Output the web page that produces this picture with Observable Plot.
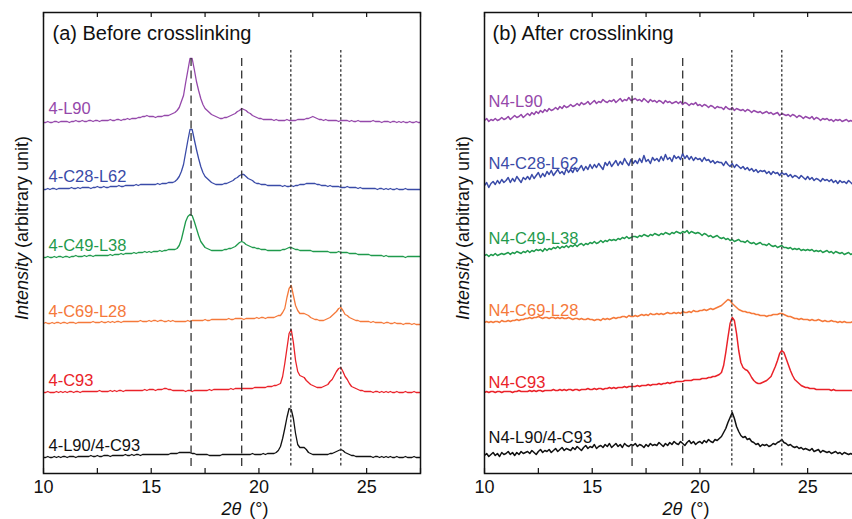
<!DOCTYPE html>
<html><head><meta charset="utf-8">
<script src="https://cdn.jsdelivr.net/npm/d3@7"></script>
<script src="https://cdn.jsdelivr.net/npm/@observablehq/plot@0.6"></script>
<style>
html,body{margin:0;padding:0;background:#fff;}
#fig{position:relative;width:852px;height:519px;overflow:hidden;font-family:"Liberation Sans",Arial,Helvetica,sans-serif;}
#fig svg{position:absolute;top:0;}
</style></head><body><div id="fig"></div>
<script>
// 2θ sampling positions (degrees)
const angles = [
10,10.1,10.2,10.3,10.4,10.5,10.6,10.7,10.8,10.9,
11,11.1,11.2,11.3,11.4,11.5,11.6,11.7,11.8,11.9,
12,12.1,12.2,12.3,12.4,12.5,12.6,12.7,12.8,12.9,
13,13.1,13.2,13.3,13.4,13.5,13.6,13.7,13.8,13.9,
14,14.1,14.2,14.3,14.4,14.5,14.6,14.7,14.8,14.9,
15,15.1,15.2,15.3,15.4,15.5,15.6,15.7,15.8,15.9,
16,16.1,16.2,16.3,16.4,16.5,16.6,16.7,16.8,16.9,
17,17.1,17.2,17.3,17.4,17.5,17.6,17.7,17.8,17.9,
18,18.1,18.2,18.3,18.4,18.5,18.6,18.7,18.8,18.9,
19,19.1,19.2,19.3,19.4,19.5,19.6,19.7,19.8,19.9,
20,20.1,20.2,20.3,20.4,20.5,20.6,20.7,20.8,20.9,
21,21.1,21.2,21.3,21.4,21.5,21.6,21.7,21.8,21.9,
22,22.1,22.2,22.3,22.4,22.5,22.6,22.7,22.8,22.9,
23,23.1,23.2,23.3,23.4,23.5,23.6,23.7,23.8,23.9,
24,24.1,24.2,24.3,24.4,24.5,24.6,24.7,24.8,24.9,
25,25.1,25.2,25.3,25.4,25.5,25.6,25.7,25.8,25.9,
26,26.1,26.2,26.3,26.4,26.5,26.6,26.7,26.8,26.9,
27,27.1,27.2,27.3,27.4,27.5];

const namesA = ["4-L90","4-C28-L62","4-C49-L38","4-C69-L28","4-C93","4-L90/4-C93"];
const namesB = ["N4-L90","N4-C28-L62","N4-C49-L38","N4-C69-L28","N4-C93","N4-L90/4-C93"];
const colors = ["#9548aa","#3a4ba8","#1f9a4c","#f5793a","#ea2229","#111111"];
const titles = ["(a) Before crosslinking","(b) After crosslinking"];

// vertical stacking offsets (arbitrary units)
const offsetsA = [351,284,216,150,81,16];
const offsetsB = [352,288,218,151,81,18];

// (a) Before crosslinking — intensities above each offset
const purpleA = [
0,0,1,0,0,1,1,0,1,1, 1,1,0,1,1,2,1,1,2,1, 1,2,2,1,2,2,1,2,2,2, 2,3,2,2,3,3,2,3,3,4,
3,4,4,4,5,5,6,6,7,6, 6,6,5,6,6,6,7,7,7,8, 9,10,12,15,21,27,40,52,64,64, 53,41,32,24,18,14,12,10,8,7,
6,5,4,4,5,5,6,7,8,9, 11,12,14,13,12,10,9,7,6,5, 4,4,3,3,3,3,3,2,3,2, 2,2,2,3,2,2,2,2,3,3,
3,3,4,4,5,6,5,4,3,3, 2,3,2,2,2,2,2,1,2,2, 2,2,1,2,1,1,2,1,1,1, 1,1,1,2,1,1,1,0,1,1,
1,0,1,1,0,1,0,1,0,0, 1,0,0,1,0,0];
const blueA = [
0,0,1,0,1,1,0,1,1,1, 1,1,1,2,1,1,2,1,2,2, 2,2,1,2,2,3,2,2,3,2, 2,3,3,3,3,4,3,3,4,4,
4,4,4,5,4,5,5,5,5,5, 5,5,5,6,5,6,6,6,7,7, 7,8,10,13,18,25,37,49,60,60, 50,40,31,23,17,13,11,9,7,6,
5,5,5,5,6,6,7,8,9,11, 12,14,15,15,13,11,10,9,7,6, 6,5,5,5,4,4,4,4,4,4, 4,3,4,3,3,4,3,4,4,5,
5,5,6,6,6,6,6,5,5,4, 4,4,3,4,3,3,3,3,2,2, 2,3,2,2,2,2,1,2,1,1, 1,1,1,1,1,0,1,1,0,1,
0,1,0,0,1,0,0,0,1,0, 0,0,0,0,0,0];
const greenA = [
0,0,1,0,0,1,0,1,1,0, 1,1,0,1,1,2,1,1,1,2, 1,2,2,1,2,2,2,2,2,2, 2,3,2,3,3,3,4,3,4,4,
4,4,5,4,5,5,5,6,5,6, 5,6,6,6,7,6,7,7,8,8, 8,8,9,12,18,27,36,41,43,42, 36,29,22,16,13,10,9,8,7,7,
7,7,7,7,8,8,9,9,10,11, 13,15,16,15,13,12,11,10,10,9, 9,8,8,8,7,7,7,7,7,7, 7,8,8,9,10,10,9,8,8,7,
7,7,7,7,7,6,6,6,6,6, 6,6,6,5,5,5,5,6,5,5, 5,5,4,4,4,4,3,3,3,3, 3,3,2,2,2,2,2,2,1,2,
1,1,1,1,1,1,1,1,0,1, 1,1,1,1,1,1];
const orangeA = [
0,1,0,0,1,0,1,1,0,1, 1,0,1,1,1,0,1,1,1,1, 1,1,1,2,1,1,1,2,1,1, 2,1,2,1,2,2,1,2,2,2,
2,2,2,2,2,3,2,2,2,3, 2,3,3,2,3,3,2,2,3,2, 3,2,2,2,2,2,2,3,2,3, 3,3,3,3,3,4,3,3,4,4,
4,4,4,4,4,4,5,4,4,5, 5,5,5,4,5,5,5,5,5,6, 5,6,6,5,6,6,6,6,7,8, 8,11,15,26,35,38,28,18,13,10,
10,10,9,8,6,5,4,4,3,3, 3,4,5,6,8,10,12,15,16,13, 9,8,6,5,4,3,3,2,2,2, 2,2,1,2,1,1,1,1,0,1,
1,0,0,1,0,0,0,-1,0,0, 0,-1,0,-1,-1,-1];
const redA = [
0,0,1,0,0,0,1,0,1,0, 1,0,1,1,0,1,1,0,1,1, 1,1,1,1,1,1,2,1,1,1, 1,2,1,2,1,2,2,1,2,2,
2,2,2,2,2,2,2,3,2,3, 3,3,2,3,3,3,4,4,3,3, 2,2,2,2,2,2,1,2,2,1, 2,2,2,2,2,2,2,3,2,3,
3,3,3,3,3,3,3,4,3,4, 4,4,4,4,4,4,4,4,5,5, 5,5,5,5,6,6,6,7,7,8, 9,16,29,44,59,63,50,32,21,17,
16,15,12,10,8,7,6,5,5,5, 6,7,8,11,13,17,21,24,25,21, 16,13,9,6,5,4,3,2,2,1, 1,1,1,0,1,1,0,1,0,1,
0,1,0,0,1,0,0,0,1,0, 0,0,1,0,0,0];
const blackA = [
0,0,1,0,0,1,0,1,0,1, 1,0,1,1,1,0,1,1,1,1, 1,1,2,1,1,2,1,1,2,2, 2,1,2,2,2,2,2,2,3,2,
2,3,2,3,3,2,3,3,3,3, 3,3,3,3,3,3,3,3,3,4, 4,4,4,5,5,5,5,5,5,4, 4,3,3,3,3,3,3,2,2,2,
2,2,2,3,3,3,3,3,3,3, 3,3,3,3,3,3,3,4,3,3, 3,3,4,3,4,4,4,4,5,7, 11,19,29,40,49,48,39,24,13,10,
10,10,8,5,4,3,3,3,3,3, 3,3,3,4,4,5,6,7,8,7, 5,4,3,2,2,1,1,1,1,1, 1,1,1,0,1,1,0,1,0,1,
0,1,0,0,1,0,0,0,1,0, 0,0,1,0,0,0];

// (b) After crosslinking
const purpleB = [
1,3,0,2,1,3,1,2,4,2, 3,5,2,4,6,4,5,7,4,6, 8,6,9,7,10,8,11,9,12,10, 13,11,12,14,12,15,13,16,14,15,
17,15,16,18,16,19,17,18,20,17, 19,21,18,20,19,22,20,19,21,20, 22,19,21,23,20,22,21,24,21,22, 23,21,22,20,23,21,19,22,20,21,
19,21,20,18,21,19,20,18,19,20, 18,20,17,19,18,16,18,17,19,16, 17,15,17,16,14,16,15,13,15,14, 14,12,15,13,12,14,11,13,12,11,
12,10,12,11,9,11,10,9,10,8, 9,10,8,9,7,8,9,6,8,7, 6,7,5,7,6,4,6,5,3,5, 4,3,5,2,4,3,1,3,2,3,
1,2,0,2,1,2,0,1,2,0, 1,0,2,0,1,1];
const blueB = [
0,3,-2,2,4,1,5,2,6,3, 5,8,3,7,4,9,6,3,8,6, 9,6,11,7,10,13,8,12,9,14, 11,15,10,13,16,12,14,11,17,13,
16,13,18,14,17,20,15,19,16,21, 17,21,18,22,19,16,23,20,24,19, 22,25,20,24,21,27,23,20,26,22, 25,22,27,23,30,24,26,22,28,25,
27,24,29,25,31,26,28,24,30,27, 29,26,32,27,30,26,29,25,28,26, 27,24,28,25,26,23,25,22,24,23, 23,20,24,21,19,22,18,21,19,17,
19,16,18,15,17,14,16,13,15,14, 15,12,14,11,14,12,13,10,13,11, 12,9,11,8,10,9,7,10,8,6, 9,6,8,5,7,6,4,7,5,6,
4,6,3,5,2,5,3,4,2,5, 3,1,4,2,3,2];
const greenB = [
0,1,-1,1,0,2,0,1,2,1, 2,3,1,3,2,4,3,2,4,3, 5,3,5,4,6,5,6,4,7,5, 7,6,8,7,9,7,9,8,10,8,
10,9,11,9,11,12,10,12,11,13, 12,14,12,13,15,13,15,14,16,15, 16,15,17,16,18,17,19,17,18,19, 19,18,20,19,21,20,19,21,20,22,
21,20,22,21,23,22,21,23,22,24, 23,22,24,23,25,22,24,23,22,23, 22,20,22,21,19,20,18,19,20,18, 17,18,16,17,15,16,14,15,16,14,
14,13,15,13,12,13,11,12,13,11, 11,10,12,10,9,10,8,9,10,8, 8,7,8,6,7,6,7,5,6,5, 6,5,6,4,5,4,5,3,4,5,
3,4,2,4,3,2,3,1,2,3, 1,2,0,1,1,0];
const orangeB = [
0,1,0,1,0,1,1,0,2,1, 1,2,1,2,2,3,2,3,3,4, 4,5,4,5,5,6,5,4,5,5, 4,5,5,4,5,4,5,4,4,5,
4,3,4,4,3,4,3,3,4,3, 3,2,3,3,2,4,3,4,3,4, 5,4,5,5,6,6,5,7,6,6, 7,6,7,8,7,8,7,9,8,8,
9,8,9,8,9,10,9,9,10,9, 10,9,11,10,10,11,10,12,11,11, 12,12,13,12,13,14,13,14,15,16, 17,19,21,23,22,19,17,15,13,12,
11,11,10,10,9,9,8,8,7,7, 7,6,7,7,8,8,8,9,9,8, 7,6,6,5,4,4,3,4,3,3, 3,2,3,2,2,3,2,1,2,1,
1,2,1,1,0,1,0,1,0,0, 0,1,0,0,0,0];
const redB = [
0,1,0,1,1,0,1,1,0,1, 1,1,1,0,1,1,2,1,1,1, 1,2,1,2,1,2,2,1,2,2, 2,2,3,2,2,3,2,3,2,3,
3,2,3,3,2,3,3,3,4,3, 3,4,3,4,4,3,4,4,5,4, 5,4,5,5,5,6,5,6,6,6, 6,7,6,7,7,7,8,7,8,8,
8,9,8,9,9,10,9,10,10,11, 11,11,11,12,12,12,12,13,13,13, 13,14,14,14,15,15,16,16,17,18, 20,27,40,55,69,75,72,59,42,30,
25,23,22,19,15,12,10,9,9,10, 11,12,14,16,21,26,32,39,42,40, 34,28,22,17,13,11,9,7,6,5, 5,4,4,4,3,3,3,3,3,3,
3,2,3,2,2,2,2,2,2,2, 2,2,2,2,2,2];
const blackB = [
0,2,-1,1,3,0,2,-1,3,1, 2,4,1,3,0,3,1,4,2,3, 4,2,5,3,1,4,6,3,5,4, 6,3,5,7,4,6,8,5,7,6,
5,8,6,9,7,5,8,10,7,9, 8,11,7,9,10,8,11,9,12,8, 10,12,9,11,8,12,10,9,11,10, 12,9,11,10,8,11,9,12,10,11,
10,13,11,9,12,10,13,11,14,12, 11,14,12,10,13,15,12,14,11,13, 14,12,15,13,16,14,13,16,15,17, 19,23,27,33,38,43,37,29,24,20,
18,19,16,17,14,13,11,12,9,11, 10,11,9,10,12,11,13,14,16,13, 12,10,11,9,8,9,7,8,6,7, 6,5,7,4,5,6,3,5,4,3,
4,2,3,4,2,3,1,3,2,1, 2,1,2,0,1,1];

const intensityA = [purpleA, blueA, greenA, orangeA, redA, blackA];
const intensityB = [purpleB, blueB, greenB, orangeB, redB, blackB];

// reference peak positions (2θ, degrees)
const refDashed = [16.85, 19.2];
const refDotted = [21.48, 23.8];
const majorTicks = [10, 15, 20, 25];
const minorTicks = [10, 12.5, 15, 17.5, 20, 22.5, 25, 27.5];

const H = 519, MT = 12, MB = 46, ML = 43;
const innerH = H - MT - MB;
const FONT = "'Liberation Sans', Arial, Helvetica, sans-serif";

function panel({title, names, offsets, intens, labelDy, left, width, marginRight, titleDx, labelDx, lineWidth}) {
  const rows = [];
  names.forEach((n, i) => intens[i].forEach((v, j) => rows.push({series: n, x: angles[j], y: offsets[i] + v})));
  const labelMarks = names.map((n, i) => Plot.text([n], {
    y: () => offsets[i], frameAnchor: "left", dx: labelDx, dy: labelDy[i],
    textAnchor: "start", lineAnchor: "bottom", fill: colors[i], fontSize: 16.5
  }));
  const svg = Plot.plot({
    width, height: H, marginLeft: ML, marginRight, marginTop: MT, marginBottom: MB,
    x: {domain: [10, 27.5], label: null},
    y: {domain: [0, innerH], axis: null},
    color: {domain: names, range: colors},
    style: {background: "transparent", fontFamily: FONT, fontSize: "18px", overflow: "visible"},
    marks: [
      Plot.line(rows, {x: "x", y: "y", z: "series", stroke: "series", strokeWidth: lineWidth, clip: true}),
      Plot.ruleX(refDashed, {x: d => d, stroke: "#333", strokeWidth: 1.3, strokeDasharray: "8,4.5", insetTop: 46, insetBottom: 7}),
      Plot.ruleX(refDotted, {x: d => d, stroke: "#333", strokeWidth: 1.3, strokeDasharray: "2.6,2.2", insetTop: 38, insetBottom: 7}),
      Plot.ruleX(minorTicks, {x: d => d, stroke: "#111", strokeWidth: 1.2, insetTop: innerH - 5}),
      Plot.ruleX(minorTicks, {x: d => d, stroke: "#111", strokeWidth: 1.2, insetBottom: innerH - 5}),
      Plot.axisX({ticks: majorTicks, tickSize: 0, tickPadding: 7, tickFormat: d => String(d), label: null, fill: "#111", fontSize: 18}),
      Plot.frame({stroke: "#111", strokeWidth: 1.5}),
      Plot.text([title], {frameAnchor: "top-left", dx: titleDx, dy: 13.5, textAnchor: "start", lineAnchor: "top", fontSize: 20, fill: "#111"}),
      ...labelMarks
    ]
  });
  svg.style.left = left + "px";
  const s = d3.select(svg);
  const yl = s.append("text").attr("transform", `translate(28,228) rotate(-90)`)
    .attr("text-anchor", "middle").attr("font-size", 18).attr("fill", "#111");
  yl.append("tspan").attr("font-style", "italic").text("Intensity");
  yl.append("tspan").text(" (arbitrary unit)");
  const cx = ML + (width - ML - marginRight) / 2 + 13.5;
  const xl = s.append("text").attr("x", cx).attr("y", 515)
    .attr("text-anchor", "middle").attr("font-size", 18).attr("fill", "#111");
  xl.append("tspan").attr("font-style", "italic").text("2θ");
  xl.append("tspan").attr("dx", 8).text("(°)");
  return svg;
}

const fig = document.getElementById("fig");
fig.appendChild(panel({title: titles[0], names: namesA, offsets: offsetsA, intens: intensityA,
  labelDy: [-9, -8, -7, -7, -7, -7], left: 0, width: 452, marginRight: 32, titleDx: 9, labelDx: 5, lineWidth: 1.3}));
fig.appendChild(panel({title: titles[1], names: namesB, offsets: offsetsB, intens: intensityB,
  labelDy: [-15, -17, -12, -7, -5, -13], left: 441, width: 430, marginRight: 10, titleDx: 8, labelDx: 4, lineWidth: 1.5}));
</script></body></html>
